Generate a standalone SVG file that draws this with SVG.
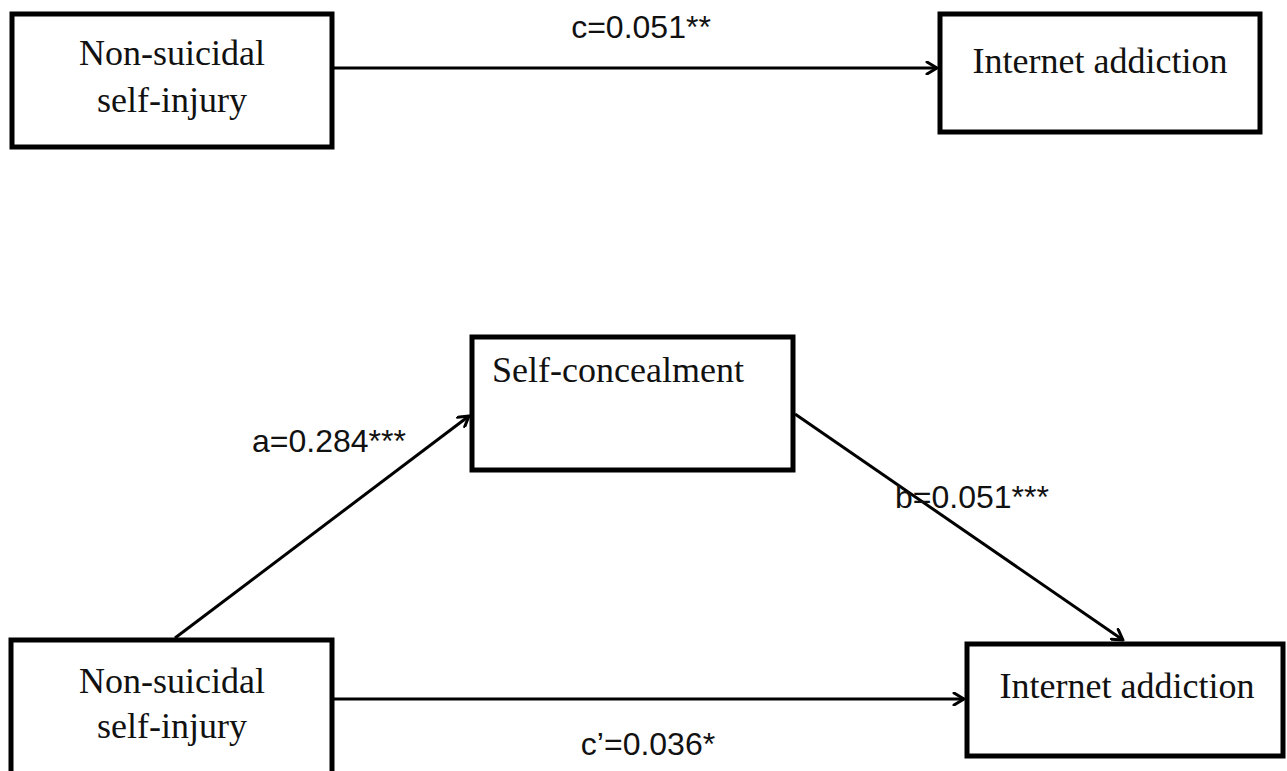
<svg xmlns="http://www.w3.org/2000/svg" width="1287" height="771" viewBox="0 0 1287 771">
  <style>
    .box { fill: #ffffff; stroke: #000000; stroke-width: 5; }
    .node-text { font-family: "Liberation Serif", "Times New Roman", serif; font-size: 36px; fill: #111111; text-anchor: middle; }
    .edge { fill: none; stroke: #000000; stroke-width: 3; }
    .edge-label { font-family: "Liberation Sans", Arial, sans-serif; font-size: 32px; fill: #111111; text-anchor: middle; }
  </style>
  <defs>
    <marker id="arrow" viewBox="0 0 14 14" refX="12" refY="7" markerWidth="14" markerHeight="14" markerUnits="userSpaceOnUse" orient="auto">
      <polyline points="2,1 12,7 2,13" fill="none" stroke="#000000" stroke-width="3" stroke-linecap="round" stroke-linejoin="round"/>
    </marker>
  </defs>
  <rect width="1287" height="771" fill="#ffffff"/>

  <g id="connectors">
    <line class="edge" x1="334" y1="68" x2="937" y2="68" marker-end="url(#arrow)"/>
    <text class="edge-label" x="641" y="38">c=0.051**</text>

    <line class="edge" x1="175" y1="638" x2="469" y2="416" marker-end="url(#arrow)"/>
    <text class="edge-label" x="329" y="452">a=0.284***</text>

    <line class="edge" x1="795" y1="414" x2="1123" y2="640" marker-end="url(#arrow)"/>
    <text class="edge-label" x="972" y="508">b=0.051***</text>

    <line class="edge" x1="334" y1="699" x2="964" y2="699" marker-end="url(#arrow)"/>
    <text class="edge-label" x="648" y="755">c’=0.036*</text>
  </g>

  <g id="node-nssi-top">
    <rect class="box" x="12" y="14" width="320" height="133"/>
    <text class="node-text" x="172" y="65">Non-suicidal</text>
    <text class="node-text" x="172" y="112">self-injury</text>
  </g>

  <g id="node-ia-top">
    <rect class="box" x="940" y="14" width="320" height="118"/>
    <text class="node-text" x="1100" y="73">Internet addiction</text>
  </g>

  <g id="node-self-concealment">
    <rect class="box" x="472" y="337" width="321" height="133"/>
    <text class="node-text" x="618" y="382">Self-concealment</text>
  </g>

  <g id="node-nssi-bottom">
    <rect class="box" x="11" y="640" width="321" height="140"/>
    <text class="node-text" x="172" y="693">Non-suicidal</text>
    <text class="node-text" x="172" y="738">self-injury</text>
  </g>

  <g id="node-ia-bottom">
    <rect class="box" x="967" y="644" width="316" height="112"/>
    <text class="node-text" x="1127" y="698">Internet addiction</text>
  </g>
</svg>
